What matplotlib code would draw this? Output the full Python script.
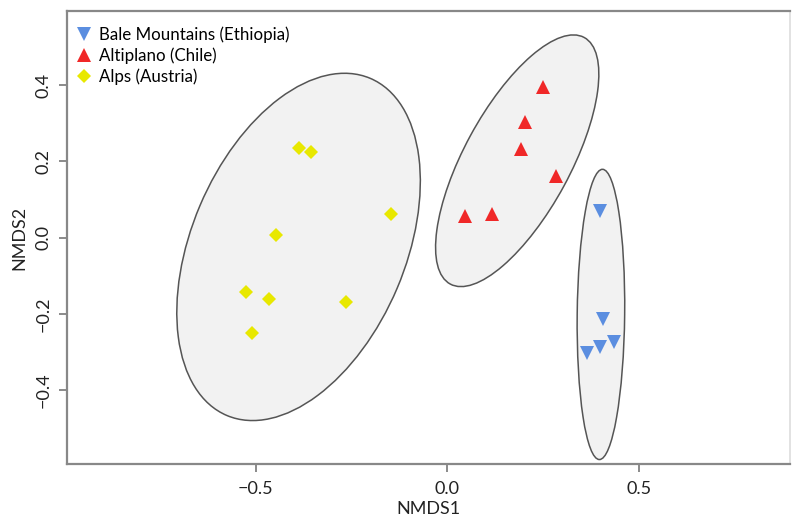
import numpy as np
import matplotlib.pyplot as plt
from matplotlib.patches import Ellipse

plt.rcParams['font.family'] = ['Lato', 'DejaVu Sans']

# NMDS scores
bale_x = [0.400, 0.408, 0.435, 0.400, 0.364]
bale_y = [0.070, -0.214, -0.274, -0.287, -0.303]
alti_x = [0.251, 0.204, 0.194, 0.283, 0.047, 0.118]
alti_y = [0.395, 0.303, 0.232, 0.161, 0.056, 0.062]
alps_x = [-0.387, -0.356, -0.147, -0.448, -0.526, -0.466, -0.264, -0.510]
alps_y = [0.235, 0.224, 0.062, 0.007, -0.143, -0.161, -0.169, -0.251]

labels = ['Bale Mountains (Ethiopia)', 'Altiplano (Chile)', 'Alps (Austria)']
colors = ['#5b8ee0', '#f02828', '#e8e800']
markers = ['v', '^', 'D']
msizes = [10, 10, 7.5]

fig = plt.figure(figsize=(8, 5.3), dpi=100)
ax = fig.add_axes([0.084, 0.1245, 0.9035, 0.8545])


def sd_ellipse(x, y):
    # 95% sd ellipse like vegan::ordiellipse(kind="sd", conf=0.95)
    x = np.asarray(x); y = np.asarray(y)
    cov = np.cov(x, y)
    vals, vecs = np.linalg.eigh(cov)
    scale = np.sqrt(5.991)
    w = 2 * scale * np.sqrt(vals[1])
    h = 2 * scale * np.sqrt(vals[0])
    ang = np.degrees(np.arctan2(vecs[1, 1], vecs[0, 1]))
    return Ellipse((x.mean(), y.mean()), w, h, angle=ang,
                   facecolor='#f2f2f2', edgecolor='#555555', lw=1.1, zorder=1)


groups = [(bale_x, bale_y), (alti_x, alti_y), (alps_x, alps_y)]
for (gx, gy) in groups:
    ax.add_patch(sd_ellipse(gx, gy))

for (gx, gy), lab, c, m, s in zip(groups, labels, colors, markers, msizes):
    ax.plot(gx, gy, linestyle='none', marker=m, color=c, markersize=s,
            markeredgewidth=0, label=lab, zorder=3)

ax.set_xlim(-0.992, 0.895)
ax.set_ylim(-0.594, 0.594)
ax.set_xticks([-0.5, 0.0, 0.5])
ax.set_xticklabels(['\u22120.5', '0.0', '0.5'])
ax.set_yticks([-0.4, -0.2, 0.0, 0.2, 0.4])
ax.set_yticklabels(['\u22120.4', '\u22120.2', '0.0', '0.2', '0.4'],
                   rotation=90, va='center')
ax.tick_params(axis='both', direction='out', length=6, width=1.2,
               color='#777777', labelsize=13, labelcolor='#222222')
ax.tick_params(axis='x', pad=6)
ax.tick_params(axis='y', pad=5)

for side in ['left', 'bottom', 'top']:
    ax.spines[side].set_color('#888888')
    ax.spines[side].set_linewidth(1.6)
ax.spines['right'].set_color('#dddddd')
ax.spines['right'].set_linewidth(1.2)

ax.set_xlabel('NMDS1', fontsize=13, color='#222222', labelpad=3)
ax.set_ylabel('NMDS2', fontsize=13, color='#222222', labelpad=6)

ax.legend(loc='upper left', bbox_to_anchor=(-0.007, 0.993), frameon=False,
          fontsize=12.2, handletextpad=0.3, borderaxespad=0.3,
          labelspacing=0.27, handlelength=1.2, borderpad=0.4)

fig.savefig('out.png', dpi=100)
